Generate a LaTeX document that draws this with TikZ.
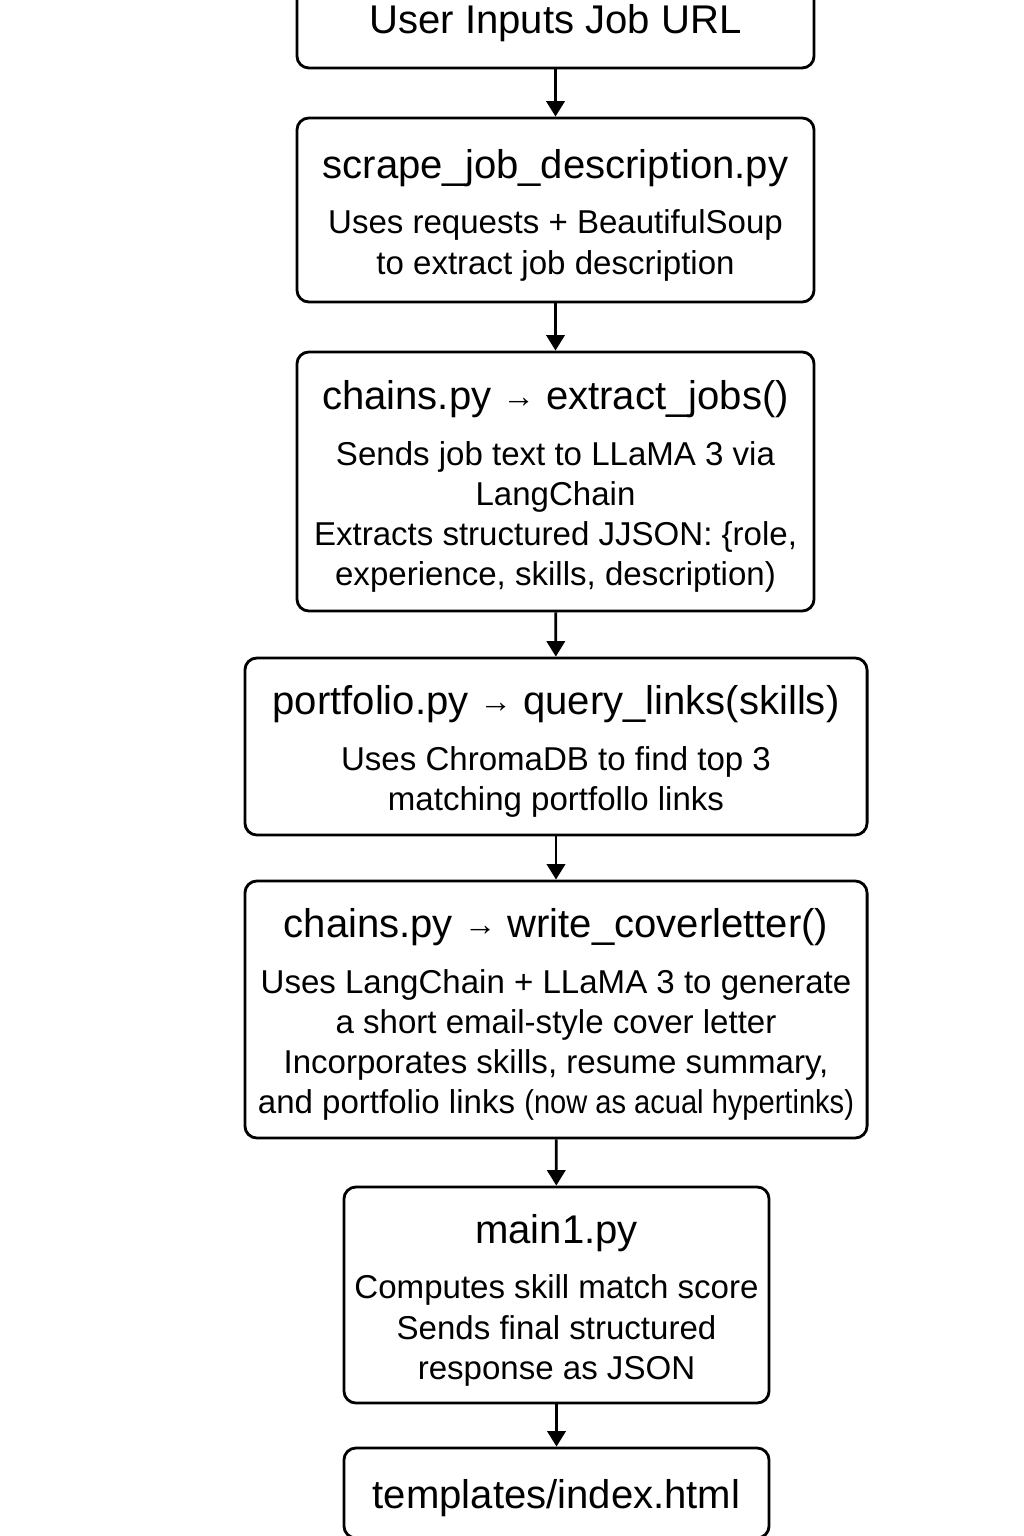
\documentclass[tikz,border=0pt]{standalone}
\usepackage{fontspec}
\usepackage{graphicx}
\setmainfont{Liberation Sans}
\usetikzlibrary{arrows.meta}

\newcommand{\ttl}{\fontsize{28.5}{30}\selectfont\rule{0pt}{28pt}}
\newcommand{\sarr}{{\fontsize{23}{23}\selectfont\raisebox{0.15ex}{→}}}

\begin{document}
\begin{tikzpicture}[x=0.025cm, y=-0.025cm]
            \useasboundingbox (0,0) rectangle (1024,1536);
            \begin{scope}[every node/.style={draw=black, line width=2pt, rectangle, rounded corners=0.3cm, align=center, inner sep=0pt, font=\fontsize{23.5}{28.5}\selectfont}]
                \node[minimum width=12.925cm, minimum height=2.5cm] (1) at (555.5,18) {\ttl User Inputs Job URL};
                \node[minimum width=12.925cm, minimum height=4.6cm] (2) at (555.5,210) {\ttl scrape\_job\_description.py\\[11pt]
                    Uses requests + BeautifulSoup\\ to extract job description};
                \node[minimum width=12.925cm, minimum height=6.475cm] (3) at (555.5,481.5) {\ttl chains.py \sarr{} extract\_jobs()\\[11pt]
                    Sends job text to LLaMA 3 via\\ LangChain\\ Extracts structured JJSON: \{role,\\ experience, skills, description)};
                \node[minimum width=15.55cm, minimum height=4.425cm] (4) at (556,746.5) {\ttl portfolio.py \sarr{} query\_links(skills)\\[11pt]
                    Uses ChromaDB to find top 3\\ matching portfollo links};
                \node[minimum width=15.55cm, minimum height=6.425cm] (5) at (556,1009.5) {\ttl chains.py \sarr{} write\_coverletter()\\[11pt]
                    Uses LangChain + LLaMA 3 to generate\\ a short email-style cover letter\\ Incorporates skills, resume summary,\\ and portfolio links \scalebox{0.88}[1]{(now as acual hypertinks)}};
                \node[minimum width=10.625cm, minimum height=5.4cm] (6) at (556.5,1295) {\ttl main1.py\\[11pt]
                    Computes skill match score\\ Sends final structured\\ response as JSON};
                \node[minimum width=10.625cm, minimum height=2.25cm] (7) at (556.5,1493) {\ttl templates/index.html};
            \end{scope}
            \begin{scope}[every edge/.style={draw, line width=2pt}]
                \path [-{Triangle[length=11pt,width=13pt]}] (1) edge node {} (2);
                \path [-{Triangle[length=11pt,width=13pt]}] (2) edge node {} (3);
                \path [-{Triangle[length=11pt,width=13pt]}] (3) edge node {} (4);
                \path [-{Triangle[length=11pt,width=13pt]}] (4) edge node {} (5);
                \path [-{Triangle[length=11pt,width=13pt]}] (5) edge node {} (6);
                \path [-{Triangle[length=11pt,width=13pt]}] (6) edge node {} (7);
            \end{scope}
        \end{tikzpicture}
\end{document}
